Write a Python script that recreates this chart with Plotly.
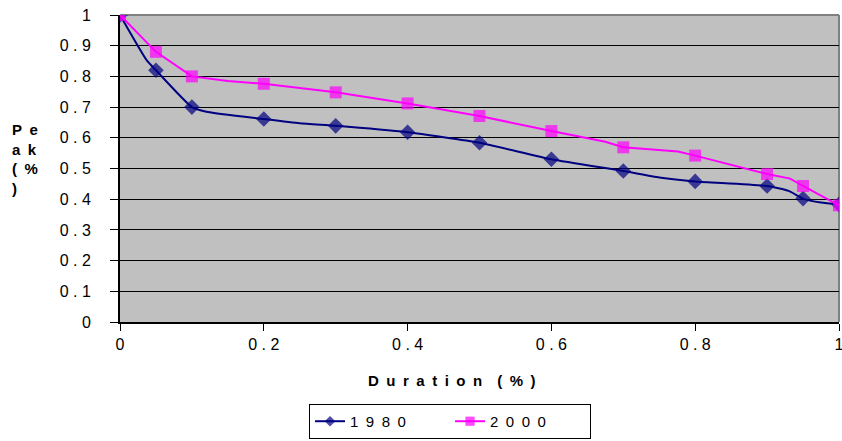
import plotly.graph_objects as go

# 1980 series (markers at standard points, extra unmarked points shape the curve)
x1980 = [0, 0.037, 0.05, 0.1, 0.12, 0.2, 0.25, 0.3, 0.4, 0.5, 0.6, 0.7, 0.75, 0.8, 0.9, 0.93, 0.95, 0.975, 1.0]
y1980 = [1.0, 0.853, 0.82, 0.70, 0.685, 0.661, 0.647, 0.639, 0.618, 0.584, 0.53, 0.492, 0.471, 0.458, 0.443, 0.427, 0.402, 0.389, 0.383]
m1980 = [1, 0, 1, 1, 0, 1, 0, 1, 1, 1, 1, 1, 0, 1, 1, 0, 1, 0, 1]

# 2000 series
x2000 = [0, 0.05, 0.1, 0.15, 0.2, 0.3, 0.4, 0.5, 0.6, 0.675, 0.7, 0.776, 0.8, 0.9, 0.932, 0.95, 1.0]
y2000 = [1.0, 0.88, 0.80, 0.785, 0.776, 0.748, 0.712, 0.671, 0.622, 0.587, 0.569, 0.555, 0.542, 0.482, 0.467, 0.443, 0.38]
m2000 = [1, 1, 1, 0, 1, 1, 1, 1, 1, 0, 1, 0, 1, 1, 0, 1, 1]

y_ticks = [0, 0.1, 0.2, 0.3, 0.4, 0.5, 0.6, 0.7, 0.8, 0.9, 1.0]
y_ticktext = ["0", "0 . 1", "0 . 2", "0 . 3", "0 . 4", "0 . 5", "0 . 6", "0 . 7", "0 . 8", "0 . 9", "1"]
x_ticks = [0, 0.2, 0.4, 0.6, 0.8, 1.0]
x_ticktext = ["0", "0 . 2", "0 . 4", "0 . 6", "0 . 8", "1"]

SP = "\u2002"  # en space for Excel-like letter spacing
name1980 = SP.join("1980")
name2000 = SP.join("2000")
x_title = SP.join("Duration") + SP + SP + SP.join("(%)")
y_title = "<br>".join([SP.join("Pe"), SP.join("ak"), SP.join("(%"), ")"])

FONT = "Liberation Sans, Arial, sans-serif"

fig = go.Figure()
fig.add_trace(go.Scatter(
    x=x1980, y=y1980, name=name1980, mode="lines+markers",
    line=dict(color="#000080", width=2, shape="spline", smoothing=0.5),
    marker=dict(symbol="diamond", color="#000080", size=[12 * m for m in m1980], line=dict(width=0)),
))
fig.add_trace(go.Scatter(
    x=x2000, y=y2000, name=name2000, mode="lines+markers",
    line=dict(color="#FF00FF", width=2),
    marker=dict(symbol="square", color="#FF00FF", size=[12 * m for m in m2000], line=dict(width=0)),
))

fig.update_layout(
    width=842, height=441,
    margin=dict(l=120, r=3, t=15, b=119, autoexpand=False),
    paper_bgcolor="white", plot_bgcolor="#C0C0C0",
    font=dict(family=FONT, size=16, color="black"),
    xaxis=dict(
        range=[0, 1], tickvals=x_ticks, ticktext=x_ticktext,
        showgrid=False, zeroline=False, showline=True, linecolor="black", linewidth=2,
        ticks="outside", ticklen=7, tickcolor="black", tickwidth=1,
        ticklabeloverflow="allow", automargin=False,
    ),
    yaxis=dict(
        range=[0, 1], tickvals=y_ticks, ticktext=[t + SP + SP for t in y_ticktext],
        showgrid=True, gridcolor="black", gridwidth=1, zeroline=False,
        showline=True, linecolor="black", linewidth=2,
        ticks="outside", ticklen=8, tickcolor="black", tickwidth=1,
        automargin=False,
    ),
    showlegend=True,
    legend=dict(
        orientation="h", x=0.459, xanchor="center", y=-0.267, yanchor="top",
        bordercolor="black", borderwidth=1, bgcolor="white",
        font=dict(size=15), entrywidth=95,
    ),
    shapes=[
        dict(type="line", xref="paper", yref="paper", x0=0, x1=1, y0=1, y1=1,
             line=dict(color="#808080", width=2), layer="between"),
        dict(type="line", xref="paper", yref="paper", x0=1, x1=1, y0=0, y1=1,
             line=dict(color="#808080", width=2), layer="between"),
    ],
    annotations=[
        dict(text="<b>" + y_title + "</b>", xref="paper", yref="paper",
             x=-0.153, y=0.531, xanchor="left", yanchor="middle", align="left",
             showarrow=False, font=dict(size=15)),
        dict(text="<b>" + x_title + "</b>", xref="paper", yref="paper",
             x=0.462, y=-0.192, xanchor="center", yanchor="middle",
             showarrow=False, font=dict(size=15)),
    ],
)

fig.write_html("out.html")
